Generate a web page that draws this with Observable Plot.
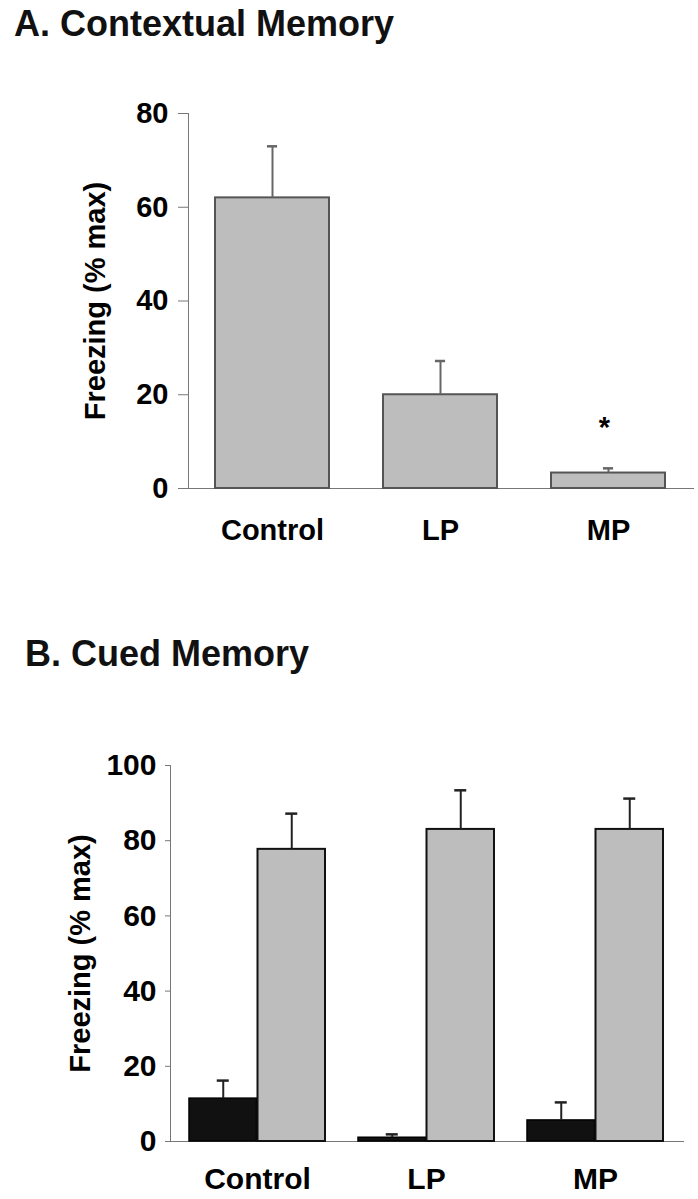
<!DOCTYPE html>
<html><head><meta charset="utf-8">
<script src="https://cdn.jsdelivr.net/npm/d3@7"></script>
<script src="https://cdn.jsdelivr.net/npm/@observablehq/plot@0.6"></script>
<style>
html,body{margin:0;padding:0;background:#fff;}
#root{position:relative;width:698px;height:1199px;font-family:"Liberation Sans",Arial,sans-serif;overflow:hidden;}
.title{position:absolute;font-weight:bold;font-size:36px;line-height:36px;color:#111;white-space:nowrap;}
.panel{position:absolute;left:0;}
.panel svg{overflow:visible;}
.panel svg text{fill:#000;}
</style></head>
<body><div id="root">
<div class="title" style="left:14px;top:6px">A. Contextual Memory</div>
<div class="panel" id="pA" style="top:60px"></div>
<div class="title" style="left:25px;top:636px">B. Cued Memory</div>
<div class="panel" id="pB" style="top:700px"></div>
</div>
<script>
// ---- data ----
const groups = ["Control", "LP", "MP"];
const contextMean = [62, 20, 3.3];
const contextSem = [11, 7.2, 1.0];
const starLabels = ["", "", "*"];
const starHeights = [null, null, 13];
const cuedPreMean = [11.4, 1.0, 5.6];
const cuedPreSem = [4.8, 0.9, 4.8];
const cuedToneMean = [77.7, 83, 83];
const cuedToneSem = [9.5, 10.4, 8.2];
const yTicksA = [0, 20, 40, 60, 80];
const yTicksB = [0, 20, 40, 60, 80, 100];
const yLabel = "Freezing (% max)";

// ---- layout ----
const W = 698;
const font = '"Liberation Sans", Arial, Helvetica, sans-serif';

// Panel A
const tableA = groups.map((g, i) => ({group: g, mean: contextMean[i], hi: contextMean[i] + contextSem[i]}));
const starA = groups.map((g, i) => ({group: g, y: starHeights[i], mark: starLabels[i]})).filter(d => d.mark);
const A = {left: 188, right: 5, inner: 0.32, outer: 0.155};
const bwA = d3.scaleBand().domain(groups).range([A.left, W - A.right]).paddingInner(A.inner).paddingOuter(A.outer).bandwidth();
const capA = 11;

const plotA = Plot.plot({
  width: W, height: 500,
  marginTop: 53, marginBottom: 72, marginLeft: A.left, marginRight: A.right,
  style: {fontFamily: font, fontSize: "29px", fontWeight: "bold", color: "#777", background: "transparent"},
  x: {domain: groups, paddingInner: A.inner, paddingOuter: A.outer, label: null, tickSize: 0, tickPadding: 31, line: true},
  y: {domain: [0, 80], ticks: yTicksA, tickSize: 10, tickPadding: 10, label: null, line: true},
  marks: [
    Plot.barY(tableA, {x: "group", y: "mean", fill: "#bdbdbd", stroke: "#555", strokeWidth: 2}),
    Plot.ruleX(tableA, {x: "group", y1: "mean", y2: "hi", stroke: "#666", strokeWidth: 2}),
    Plot.tickY(tableA, {x: "group", y: "hi", stroke: "#666", strokeWidth: 2.5, insetLeft: (bwA - capA) / 2, insetRight: (bwA - capA) / 2}),
    Plot.text(starA, {x: "group", y: "y", text: "mark", fontSize: 29, fontWeight: "bold", dx: -4}),
    Plot.text([yLabel], {frameAnchor: "left", textAnchor: "middle", rotate: -90, dx: -93, fontSize: 29, fontWeight: "bold"})
  ]
});
document.getElementById("pA").appendChild(plotA);

// Panel B
const preB = groups.map((g, i) => ({group: g, mean: cuedPreMean[i], hi: cuedPreMean[i] + cuedPreSem[i]}));
const toneB = groups.map((g, i) => ({group: g, mean: cuedToneMean[i], hi: cuedToneMean[i] + cuedToneSem[i]}));
const B = {left: 170, right: 15, inner: 0.194, outer: 0.106};
const bwB = d3.scaleBand().domain(groups).range([B.left, W - B.right]).paddingInner(B.inner).paddingOuter(B.outer).bandwidth();
const capB = 13;

const plotB = Plot.plot({
  width: W, height: 499,
  marginTop: 65, marginBottom: 58, marginLeft: B.left, marginRight: B.right,
  style: {fontFamily: font, fontSize: "30px", fontWeight: "bold", color: "#777", background: "transparent"},
  x: {domain: groups, paddingInner: B.inner, paddingOuter: B.outer, label: null, tickSize: 0, tickPadding: 26, line: true},
  y: {domain: [0, 100], ticks: yTicksB, tickSize: 5, tickPadding: 9, label: null, line: true},
  marks: [
    Plot.barY(preB, {x: "group", y: "mean", fill: "#111", stroke: "#000", strokeWidth: 1.5, insetRight: bwB / 2}),
    Plot.barY(toneB, {x: "group", y: "mean", fill: "#bdbdbd", stroke: "#111", strokeWidth: 2, insetLeft: bwB / 2}),
    Plot.ruleX(preB, {x: "group", y1: "mean", y2: "hi", dx: -bwB / 4, stroke: "#222", strokeWidth: 2}),
    Plot.ruleX(toneB, {x: "group", y1: "mean", y2: "hi", dx: bwB / 4, stroke: "#222", strokeWidth: 2}),
    Plot.tickY(preB, {x: "group", y: "hi", stroke: "#222", strokeWidth: 2.5, insetLeft: bwB / 4 - capB / 2, insetRight: 3 * bwB / 4 - capB / 2}),
    Plot.tickY(toneB, {x: "group", y: "hi", stroke: "#222", strokeWidth: 2.5, insetLeft: 3 * bwB / 4 - capB / 2, insetRight: bwB / 4 - capB / 2}),
    Plot.text([yLabel], {frameAnchor: "left", textAnchor: "middle", rotate: -90, dx: -90, fontSize: 29, fontWeight: "bold"})
  ]
});
document.getElementById("pB").appendChild(plotB);
</script>
</body></html>
